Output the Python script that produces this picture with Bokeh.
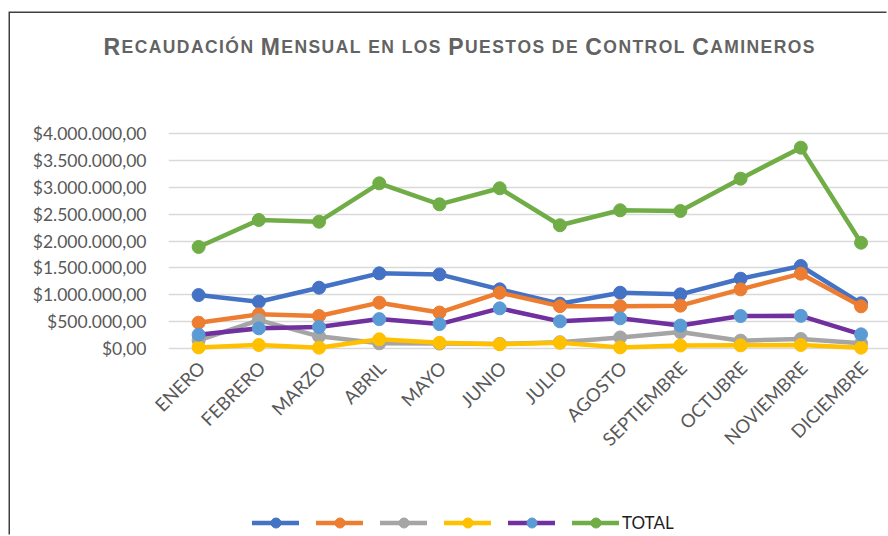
import math
from bokeh.plotting import figure
from bokeh.layouts import column
from bokeh.models import Range1d, FixedTicker, Legend, LegendItem, Label, LinearAxis
from bokeh.embed import file_html
from bokeh.resources import INLINE

# ---------------- data ----------------
meses = ["ENERO", "FEBRERO", "MARZO", "ABRIL", "MAYO", "JUNIO", "JULIO",
         "AGOSTO", "SEPTIEMBRE", "OCTUBRE", "NOVIEMBRE", "DICIEMBRE"]

y_ticks = [0, 500000, 1000000, 1500000, 2000000, 2500000, 3000000, 3500000, 4000000]
y_tick_labels = ["$0,00", "$500.000,00", "$1.000.000,00", "$1.500.000,00", "$2.000.000,00",
                 "$2.500.000,00", "$3.000.000,00", "$3.500.000,00", "$4.000.000,00"]

serie_1 = [997000, 873000, 1133000, 1400000, 1380000, 1103000, 836000, 1040000, 1010000, 1300000, 1536000, 843000]
serie_2 = [483000, 639000, 607000, 855000, 672000, 1040000, 790000, 790000, 800000, 1103000, 1393000, 787000]
serie_3 = [156000, 530000, 230000, 100000, 95000, 90000, 120000, 210000, 310000, 150000, 180000, 100000]
serie_4 = [25000, 69000, 20000, 175000, 110000, 82000, 110000, 25000, 60000, 63000, 69000, 20000]
serie_5 = [260000, 379000, 403000, 550000, 458000, 750000, 508000, 565000, 430000, 607000, 610000, 267000]
total = [1889000, 2390000, 2358000, 3071000, 2681000, 2979000, 2292000, 2570000, 2557000, 3157000, 3733000, 1968000]

nombres = [" ", " ", " ", " ", " ", "TOTAL"]
titulo = "RECAUDACIÓN MENSUAL EN LOS PUESTOS DE CONTROL CAMINEROS"
titulo_mayus = [0, 12, 27, 38, 46]  # full-size capitals of the small-caps title

# ---------------- styles ----------------
line_colors = ["#4472C4", "#ED7D31", "#A5A5A5", "#FFC000", "#7030A0", "#70AD47"]
marker_colors = ["#4472C4", "#ED7D31", "#A5A5A5", "#FFC000", "#5B9BD5", "#70AD47"]
AXIS_FONT = "Lato"
GRAY_TXT = "#595959"
TITLE_TXT = "#636363"
W = 878
H_TITLE, H_MAIN, H_LEG = 60, 422, 41


def bare_fig(h):
    f = figure(width=W, height=h, output_backend="svg", toolbar_location=None,
               x_axis_type=None, y_axis_type=None, x_range=Range1d(0, W), y_range=Range1d(0, h),
               min_border_left=0, min_border_right=0, min_border_top=0, min_border_bottom=0)
    f.frame_align = False
    f.outline_line_color = None
    f.xgrid.visible = False
    f.ygrid.visible = False
    f.background_fill_color = "white"
    f.border_fill_color = "white"
    return f


# ---------------- title (small caps, bold, expanded spacing) ----------------
t = bare_fig(H_TITLE)
widths = {"A": .722, "B": .722, "C": .722, "D": .722, "E": .667, "I": .278, "L": .611,
          "M": .833, "N": .722, "O": .778, "Ó": .778, "P": .667, "R": .722, "S": .667,
          "T": .611, "U": .722, " ": .278}
BIG, SMALL = 23.0, 17.5
target_w = 711.0
natural = sum(widths[c] * (BIG if i in titulo_mayus else SMALL) for i, c in enumerate(titulo))
ls = (target_w - natural) / (len(titulo) - 1)
cursor = 93.0
for i, c in enumerate(titulo):
    sz = BIG if i in titulo_mayus else SMALL
    if c != " ":
        t.add_layout(Label(x=cursor, y=27, x_units="screen", y_units="screen", text=c,
                           text_font="Liberation Sans", text_font_style="bold",
                           text_font_size=f"{sz}px", text_color=TITLE_TXT,
                           text_align="left", text_baseline="alphabetic"))
    cursor += widths[c] * sz + ls

# ---------------- main chart ----------------
x = list(range(len(meses)))
p = figure(width=W, height=H_MAIN, output_backend="svg", toolbar_location=None,
           x_axis_type=None,
           x_range=Range1d(-0.5, 11.456), y_range=Range1d(-200000, 4200000),
           min_border_left=158, min_border_right=0, min_border_top=49, min_border_bottom=136)
p.frame_align = False
p.outline_line_color = None
p.background_fill_color = "white"
p.border_fill_color = "white"

# category labels axis (Excel places rotated labels slightly right of the point)
p.extra_x_ranges = {"etiquetas": Range1d(-0.5 - 0.05, 11.456 - 0.05)}
xa = LinearAxis(x_range_name="etiquetas")
p.add_layout(xa, "below")
xa.ticker = FixedTicker(ticks=x)
xa.major_label_overrides = {i: m for i, m in zip(x, meses)}
xa.axis_line_color = None
xa.major_tick_line_color = None
xa.minor_tick_line_color = None
xa.major_tick_out = 0
xa.major_tick_in = 0
xa.major_label_standoff = 5
xa.major_label_orientation = math.pi / 4
xa.major_label_text_font = AXIS_FONT
xa.major_label_text_font_size = "18.5px"
xa.major_label_text_color = GRAY_TXT

p.xgrid.visible = False
p.ygrid.ticker = FixedTicker(ticks=y_ticks)
p.ygrid.grid_line_color = "#D9D9D9"
p.ygrid.grid_line_width = 1.3

p.yaxis.ticker = FixedTicker(ticks=y_ticks)
p.yaxis.major_label_overrides = {tk: lb for tk, lb in zip(y_ticks, y_tick_labels)}
p.yaxis.axis_line_color = None
p.yaxis.major_tick_line_color = None
p.yaxis.minor_tick_line_color = None
p.yaxis.major_tick_out = 0
p.yaxis.major_tick_in = 0
p.yaxis.major_label_standoff = 22
p.yaxis.major_label_text_font = AXIS_FONT
p.yaxis.major_label_text_font_size = "17.5px"
p.yaxis.major_label_text_color = GRAY_TXT

all_series = [serie_1, serie_2, serie_3, serie_4, serie_5, total]
for vals, lc, mc in zip(all_series, line_colors, marker_colors):
    p.line(x, vals, line_color=lc, line_width=4.5, line_join="round", line_cap="round")
    p.scatter(x, vals, marker="circle", size=13, fill_color=mc, line_color=mc, line_width=1)

# ---------------- legend strip ----------------
# the series are drawn again here far outside this strip's visible range; only
# their legend glyphs show
lg = bare_fig(H_LEG)
items = []
for vals, lc, mc, name in zip(all_series, line_colors, marker_colors, nombres):
    r1 = lg.line(x, vals, line_color=lc, line_width=4.5, line_cap="round")
    r2 = lg.scatter(x, vals, marker="circle", size=10, fill_color=mc, line_color=mc)
    items.append(LegendItem(label=name, renderers=[r1, r2]))
legend = Legend(items=items, orientation="horizontal", location=(242, 1),
                glyph_width=47, glyph_height=25, label_height=25, label_width=4,
                label_standoff=3, spacing=10, padding=0, margin=0,
                border_line_color=None, background_fill_alpha=0,
                label_text_font=AXIS_FONT, label_text_font_size="17px",
                label_text_color="#1E1E1E")
lg.add_layout(legend, "center")

layout = column(t, p, lg, spacing=0, margin=(13, 0, 0, 10))
layout.styles = {"box-shadow": "-1.5px -1.5px 0px 0px #404040"}

open("out.html", "w").write(file_html(layout, INLINE))
